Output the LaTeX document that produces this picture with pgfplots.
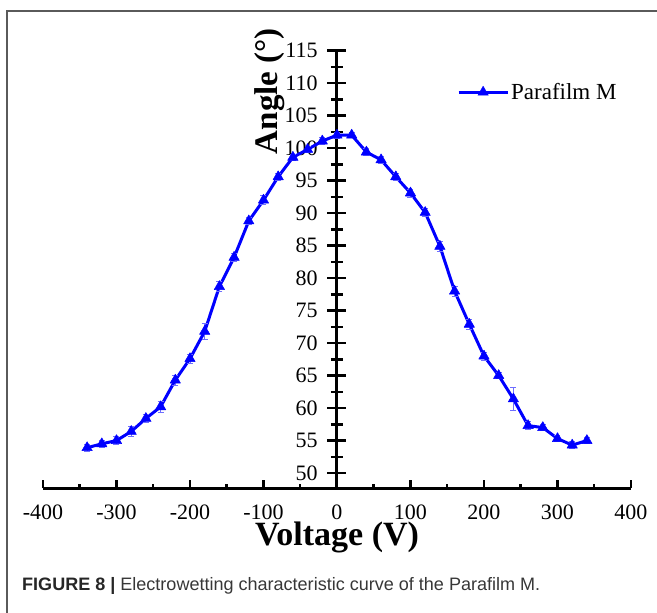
\documentclass[border=0pt]{standalone}
\usepackage{fontspec}
\setmainfont{Liberation Serif}
\newfontfamily\capfont{Liberation Sans}
\usepackage{graphicx}
\usepackage{pgfplots}
\pgfplotsset{compat=1.18}
\usepackage{pgfplotstable}
\definecolor{lineblue}{RGB}{0,0,255}
\definecolor{errblue}{RGB}{110,110,255}
\definecolor{framegray}{RGB}{90,90,90}
\definecolor{capgray}{RGB}{55,55,55}

\pgfplotstableread{
x y err
-340 53.9 0.5
-320 54.5 0.5
-300 55.0 0.6
-280 56.4 0.8
-260 58.4 0.6
-240 60.2 0.8
-220 64.3 0.8
-200 67.6 0.7
-180 71.8 1.3
-160 78.7 0.8
-140 83.2 0.6
-120 88.8 0.6
-100 92.0 0.7
-80 95.6 0.5
-60 98.6 0.5
-40 99.8 0.5
-20 101.1 0.5
0 102.0 0.5
20 102.0 0.4
40 99.4 0.5
60 98.2 0.5
80 95.6 0.5
100 93.1 0.6
120 90.1 0.6
140 84.9 0.8
160 78.0 0.8
180 72.9 0.8
200 68.0 0.6
220 65.0 0.5
240 61.4 1.8
260 57.3 0.6
280 57.0 0.5
300 55.3 0.5
320 54.3 0.5
340 55.0 0.5
}\datatable

\begin{document}
\begin{tikzpicture}
\useasboundingbox (0pt,-613pt) rectangle (657pt,0pt);
\draw[framegray, line width=1.2pt] (7pt,-613pt) -- (7pt,-11pt) -- (657pt,-11pt);
\begin{axis}[
  at={(43pt,-488pt)}, anchor=south west,
  scale only axis, width=588pt, height=437.3pt,
  xmin=-400, xmax=400, ymin=47.7, ymax=115,
  axis x line=bottom, axis y line=center,
  axis line style={-, line width=3pt, black},
  hide obscured x ticks=false, hide obscured y ticks=false,
  xtick={-400,-300,...,400},
  xticklabels={-400,-300,-200,-100,0,100,200,300,400},
  ytick={50,55,...,115},
  minor x tick num=1, minor y tick num=1,
  tick align=center,
  tick style={black, line width=2.5pt},
  every major x tick/.append style={/pgfplots/major tick length=8pt, yshift=4pt},
  every minor x tick/.append style={/pgfplots/minor tick length=4pt, yshift=2pt},
  every major y tick/.append style={/pgfplots/major tick length=19pt},
  every minor y tick/.append style={/pgfplots/minor tick length=12pt},
  /pgf/number format/assume math mode=true,
  tick label style={font=\fontsize{22}{26}\selectfont},
  xticklabel style={anchor=base, inner sep=0pt, yshift=-29pt},
  yticklabel style={anchor=east, inner sep=0pt, xshift=-17pt},
  xlabel={\textbf{Voltage (V)}},
  ylabel={\textbf{Angle (°)}},
  xlabel style={font=\fontsize{34}{38}\selectfont, inner sep=0pt, at={(axis description cs:0.5,-0.1315)}, anchor=base},
  ylabel style={font=\fontsize{33}{38}\selectfont, inner sep=0pt, at={(axis description cs:0.3985,0.9075)}, anchor=base, rotate=90},
  legend style={draw=none, fill=none, at={(0.704,0.905)}, anchor=west,
    font=\fontsize{23}{27}\selectfont, inner sep=0pt},
  legend cell align=left,
  legend image code/.code={\draw[mark repeat=2, mark phase=2, #1] plot coordinates {(0pt,0pt) (24.5pt,0pt) (49pt,0pt)};},
  clip=false,
]
\addplot[lineblue, line width=3pt, line join=round, mark=triangle*, mark size=6pt,
  mark options={solid, line width=0.5pt},
  error bars/.cd, y dir=both, y explicit,
  error bar style={errblue, line width=0.8pt},
  error mark options={errblue, rotate=90, mark size=3pt, line width=0.8pt}]
  table[x=x, y=y, y error=err] {\datatable};
\addlegendentry{Parafilm M}
\end{axis}
\node[anchor=base west, inner sep=0pt, text=capgray] at (22pt,-590pt)
  {\resizebox{518pt}{\height}{\capfont\fontsize{18}{20}\selectfont\textcolor{black!85}{\bfseries FIGURE 8 |} Electrowetting characteristic curve of the Parafilm M.}};
\end{tikzpicture}
\end{document}
